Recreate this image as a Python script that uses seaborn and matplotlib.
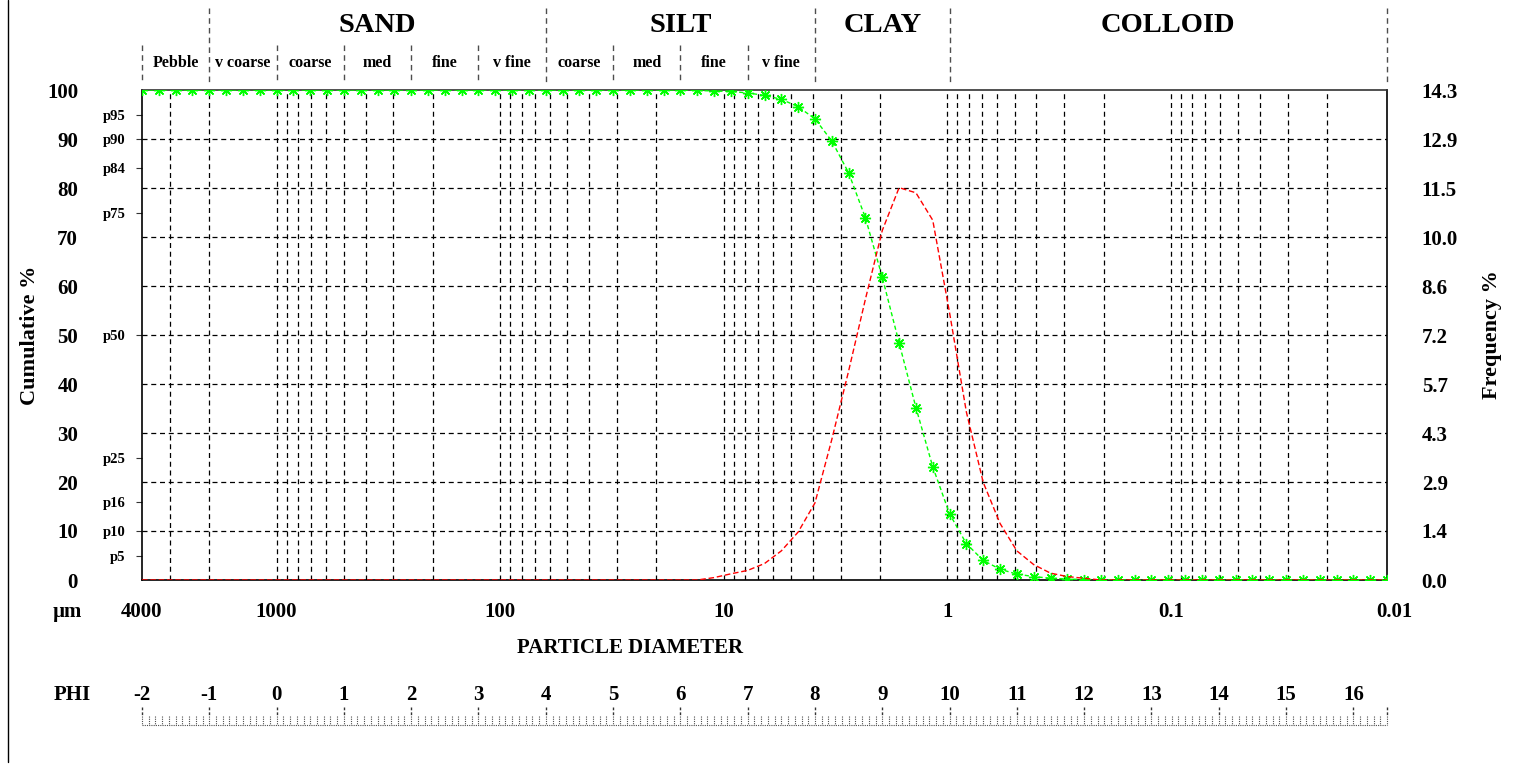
import numpy as np
import pandas as pd
import matplotlib.pyplot as plt
import seaborn as sns
from matplotlib.lines import Line2D

# sample points on the phi scale (every 0.25 phi)
phi = [-2.0, -1.75, -1.5, -1.25, -1.0, -0.75, -0.5, -0.25, 0.0, 0.25, 0.5, 0.75,
       1.0, 1.25, 1.5, 1.75, 2.0, 2.25, 2.5, 2.75, 3.0, 3.25, 3.5, 3.75,
       4.0, 4.25, 4.5, 4.75, 5.0, 5.25, 5.5, 5.75, 6.0, 6.25, 6.5, 6.75,
       7.0, 7.25, 7.5, 7.75, 8.0, 8.25, 8.5, 8.75, 9.0, 9.25, 9.5, 9.75,
       10.0, 10.25, 10.5, 10.75, 11.0, 11.25, 11.5, 11.75, 12.0, 12.25, 12.5, 12.75,
       13.0, 13.25, 13.5, 13.75, 14.0, 14.25, 14.5, 14.75, 15.0, 15.25, 15.5, 15.75,
       16.0, 16.25, 16.5]

cumulative = [100, 100, 100, 100, 100, 100, 100, 100, 100, 100, 100, 100,
              100, 100, 100, 100, 100, 100, 100, 100, 100, 100, 100, 100,
              100, 100, 100, 100, 100, 100, 100, 100, 100, 99.9, 99.8, 99.7,
              99.4, 98.9, 98.1, 96.6, 94.1, 89.6, 83.1, 73.9, 61.8, 48.4, 35.2, 23.1,
              13.5, 7.4, 4.0, 2.2, 1.2, 0.7, 0.35, 0.2, 0.1, 0.05, 0, 0,
              0, 0, 0, 0, 0, 0, 0, 0, 0, 0, 0, 0,
              0, 0, 0]

frequency = [0, 0, 0, 0, 0, 0, 0, 0, 0, 0, 0, 0,
             0, 0, 0, 0, 0, 0, 0, 0, 0, 0, 0, 0,
             0, 0, 0, 0, 0, 0, 0, 0, 0, 0, 0.07, 0.18,
             0.28, 0.48, 0.85, 1.4, 2.25, 4.1, 6.1, 8.2, 10.2, 11.45, 11.3, 10.5,
             7.8, 4.9, 2.85, 1.65, 0.85, 0.45, 0.2, 0.1, 0.05, 0, 0, 0,
             0, 0, 0, 0, 0, 0, 0, 0, 0, 0, 0, 0,
             0, 0, 0]

cum_ticks = [0, 10, 20, 30, 40, 50, 60, 70, 80, 90, 100]
p_ticks = [5, 10, 16, 25, 50, 75, 84, 90, 95]
p_labels = ['p5', 'p10', 'p16', 'p25', 'p50', 'p75', 'p84', 'p90', 'p95']
freq_max = 14.3
freq_labels = ['0.0', '1.4', '2.9', '4.3', '5.7', '7.2', '8.6', '10.0', '11.5', '12.9', '14.3']
um_values = [4000, 1000, 100, 10, 1, 0.1, 0.01]
um_labels = ['4000', '1000', '100', '10', '1', '0.1', '0.01']
phi_labels = [-2, -1, 0, 1, 2, 3, 4, 5, 6, 7, 8, 9, 10, 11, 12, 13, 14, 15, 16]

main_classes = [('SAND', -1, 4), ('SILT', 4, 8), ('CLAY', 8, 10), ('COLLOID', 10, 16.5)]
sub_classes = [('Pebble', -2, -1), ('v coarse', -1, 0), ('coarse', 0, 1), ('med', 1, 2),
               ('fine', 2, 3), ('v fine', 3, 4), ('coarse', 4, 5), ('med', 5, 6),
               ('fine', 6, 7), ('v fine', 7, 8)]

df = pd.DataFrame({'phi': phi, 'cumulative': cumulative, 'frequency': frequency})


def um_to_phi(d):
    return -np.log2(np.asarray(d, dtype=float) / 1000.0)


sns.set_theme(style='white')
plt.rcParams['font.family'] = ['Liberation Serif', 'DejaVu Serif']
plt.rcParams['font.weight'] = 'bold'
plt.rcParams['text.color'] = 'black'
plt.rcParams['axes.labelcolor'] = 'black'
plt.rcParams['xtick.color'] = 'black'
plt.rcParams['ytick.color'] = 'black'

W, H = 1526, 775
fig = plt.figure(figsize=(W / 100, H / 100), dpi=100)
ax = fig.add_axes([142 / W, 1 - 580 / H, 1245 / W, 490 / H])
ax.set_xlim(-2, 16.5)
ax.set_ylim(0, 100)

# log grid of diameters
grid_um = [m * 10.0 ** e for e in range(-2, 4) for m in range(1, 10)]
grid_um = [d for d in grid_um if 0.01 < d < 4000]
ax.vlines(um_to_phi(grid_um), 0, 100, colors='black', linestyles=(0, (4, 3)), lw=0.9, zorder=1)
ax.hlines(cum_ticks[1:-1], -2, 16.5, colors='black', linestyles=(0, (4, 3)), lw=0.9, zorder=1)

# cumulative curve
sns.lineplot(data=df, x='phi', y='cumulative', ax=ax, color='#00ff00', lw=1,
             marker=(8, 2, 0), markersize=8, markeredgecolor='#00ff00', markeredgewidth=1,
             sort=False, zorder=3)
ax.lines[-1].set_dashes([3, 2])

ax.set_xticks([])
ax.set_xlabel('')
ax.set_ylabel('')
ax.set_yticks(cum_ticks)
ax.set_yticklabels([str(v) for v in cum_ticks], fontsize=15, fontweight='bold')
ax.yaxis.remove_overlapping_locs = False
ax.set_yticks(p_ticks, minor=True)
ax.set_yticklabels(p_labels, minor=True, fontsize=10.5, fontweight='bold')
ax.tick_params(axis='y', which='major', left=False, length=0, pad=46, labelcolor='black')
ax.tick_params(axis='y', which='minor', left=True, length=4, width=0.8, pad=8,
               color='#333333', labelcolor='black', direction='out')
for s in ax.spines.values():
    s.set_color('black')
    s.set_linewidth(1.2)
ax.spines['top'].set_color('#333333')

# frequency curve
ax2 = ax.twinx()
sns.lineplot(data=df, x='phi', y='frequency', ax=ax2, color='#ff0000', lw=1, sort=False)
ax2.lines[-1].set_dashes([4, 2])
ax2.set_ylim(0, freq_max)
ax2.set_yticks(np.linspace(0, freq_max, len(freq_labels)))
ax2.set_yticklabels(freq_labels, fontsize=15, fontweight='bold')
ax2.tick_params(axis='y', right=False, length=0, pad=25, labelcolor='black')
ax2.set_ylabel('')
ax2.set_xlabel('')
for s in ax2.spines.values():
    s.set_visible(False)

xt = ax.get_xaxis_transform()


def ypix(y):
    return (580 - y) / 490.0


# header: size classes
for name, a, b in main_classes:
    ax.text((a + b) / 2, ypix(25), name, transform=xt, ha='center', va='center',
            fontsize=20.5, fontweight='bold')
for name, a, b in sub_classes:
    ax.text((a + b) / 2, ypix(63), name, transform=xt, ha='center', va='center',
            fontsize=11.5, fontweight='bold')
full_lines = [-1, 4, 8, 10, 16.5]
short_lines = [-2, 0, 1, 2, 3, 5, 6, 7]
ax.vlines(full_lines, ypix(8), ypix(82), transform=xt, colors='0.3',
          linestyles=(0, (4, 3)), lw=1, clip_on=False)
ax.vlines(short_lines, ypix(45), ypix(82), transform=xt, colors='0.3',
          linestyles=(0, (4, 3)), lw=1, clip_on=False)

# diameter labels
for d, lab in zip(um_values, um_labels):
    ax.text(float(um_to_phi(d)), ypix(612), lab, transform=xt, ha='center', va='center',
            fontsize=15, fontweight='bold', clip_on=False)
fig.text(67 / W, 1 - 612 / H, 'µm', ha='center', va='center', fontsize=15, fontweight='bold')
fig.text(630 / W, 1 - 648 / H, 'PARTICLE DIAMETER', ha='center', va='center',
         fontsize=15, fontweight='bold')

# phi ruler
fig.text(72 / W, 1 - 695 / H, 'PHI', ha='center', va='center', fontsize=15, fontweight='bold')
for p in phi_labels:
    ax.text(p, ypix(695), str(p), transform=xt, ha='center', va='center',
            fontsize=15, fontweight='bold', clip_on=False)
ax.vlines(phi_labels + [16.5], ypix(707), ypix(715), transform=xt, colors='0.2',
          linestyles=(0, (2, 1.5)), lw=1, clip_on=False)
minor_phi = np.arange(-2, 16.51, 0.1)
ax.vlines(minor_phi, ypix(716), ypix(725), transform=xt, colors='0.3',
          linestyles=(0, (1, 1)), lw=0.8, clip_on=False)
ax.hlines(ypix(725), -2, 16.5, transform=xt, colors='0.3', linestyles=(0, (1, 1)),
          lw=0.8, clip_on=False)

# axis titles
fig.text(30 / W, 1 - 335 / H, 'Cumulative %', rotation=90, ha='center', va='center',
         fontsize=16, fontweight='bold')
fig.text(1492 / W, 1 - 335 / H, 'Frequency %', rotation=90, ha='center', va='center',
         fontsize=16, fontweight='bold')

# left frame edge
fig.add_artist(Line2D([8 / W, 8 / W], [1 - 762 / H, 1], color='black', lw=1))

fig.savefig('out.png', dpi=100)
